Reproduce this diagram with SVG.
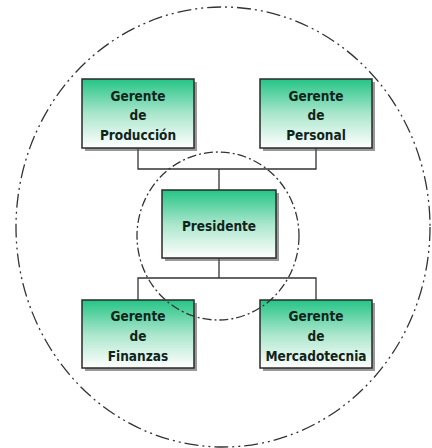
<svg xmlns="http://www.w3.org/2000/svg" width="432" height="448" viewBox="0 0 432 448">
<defs>
<linearGradient id="g" x1="0" y1="0" x2="0" y2="1">
<stop offset="0" stop-color="#25c486"/>
<stop offset="0.5" stop-color="#a9e6cc"/>
<stop offset="1" stop-color="#ffffff"/>
</linearGradient>
</defs>
<style>
.box{fill:url(#g);stroke:#2a2a2a;stroke-width:1.5}
.sh{fill:#555;opacity:0.6}
.t{font-family:"DejaVu Sans","Liberation Sans",sans-serif;font-stretch:condensed;font-weight:bold;font-size:13.5px;fill:#10241a;text-anchor:middle}
.ring{fill:none;stroke:#333;stroke-width:1.3;stroke-dasharray:14 4 2 4 2 4}
.c{fill:none;stroke:#333;stroke-width:1.3}
</style>
<rect width="432" height="448" fill="#fff"/>
<g id="connectors">
<path class="c" d="M138 148V169H316V148M219 169V190"/>
<path class="c" d="M219 258V278M138 300V278H316V300"/>
</g>
<g id="produccion">
<rect class="sh" x="85" y="82" width="112" height="69"/>
<rect class="box" x="82" y="79" width="112" height="69"/>
<text class="t" x="138" y="101">Gerente</text>
<text class="t" x="138" y="120">de</text>
<text class="t" x="138" y="140">Producción</text>
</g>
<g id="personal">
<rect class="sh" x="263" y="82" width="112" height="69"/>
<rect class="box" x="260" y="79" width="112" height="69"/>
<text class="t" x="316" y="101">Gerente</text>
<text class="t" x="316" y="120">de</text>
<text class="t" x="316" y="140">Personal</text>
</g>
<g id="presidente">
<rect class="sh" x="165" y="193" width="114" height="68"/>
<rect class="box" x="162" y="190" width="114" height="68"/>
<text class="t" x="219" y="231">Presidente</text>
</g>
<g id="finanzas">
<rect class="sh" x="85" y="303" width="112" height="68"/>
<rect class="box" x="82" y="300" width="112" height="68"/>
<text class="t" x="138" y="321">Gerente</text>
<text class="t" x="138" y="341">de</text>
<text class="t" x="138" y="361">Finanzas</text>
</g>
<g id="mercadotecnia">
<rect class="sh" x="263" y="303" width="112" height="68"/>
<rect class="box" x="260" y="300" width="112" height="68"/>
<text class="t" x="316" y="321">Gerente</text>
<text class="t" x="316" y="341">de</text>
<text class="t" x="316" y="361">Mercadotecnia</text>
</g>
<g id="rings">
<ellipse class="ring" cx="223" cy="227" rx="207" ry="220"/>
<ellipse class="ring" cx="218" cy="236" rx="81" ry="84" style="stroke-dasharray:9 3 2 3"/>
</g>
</svg>
